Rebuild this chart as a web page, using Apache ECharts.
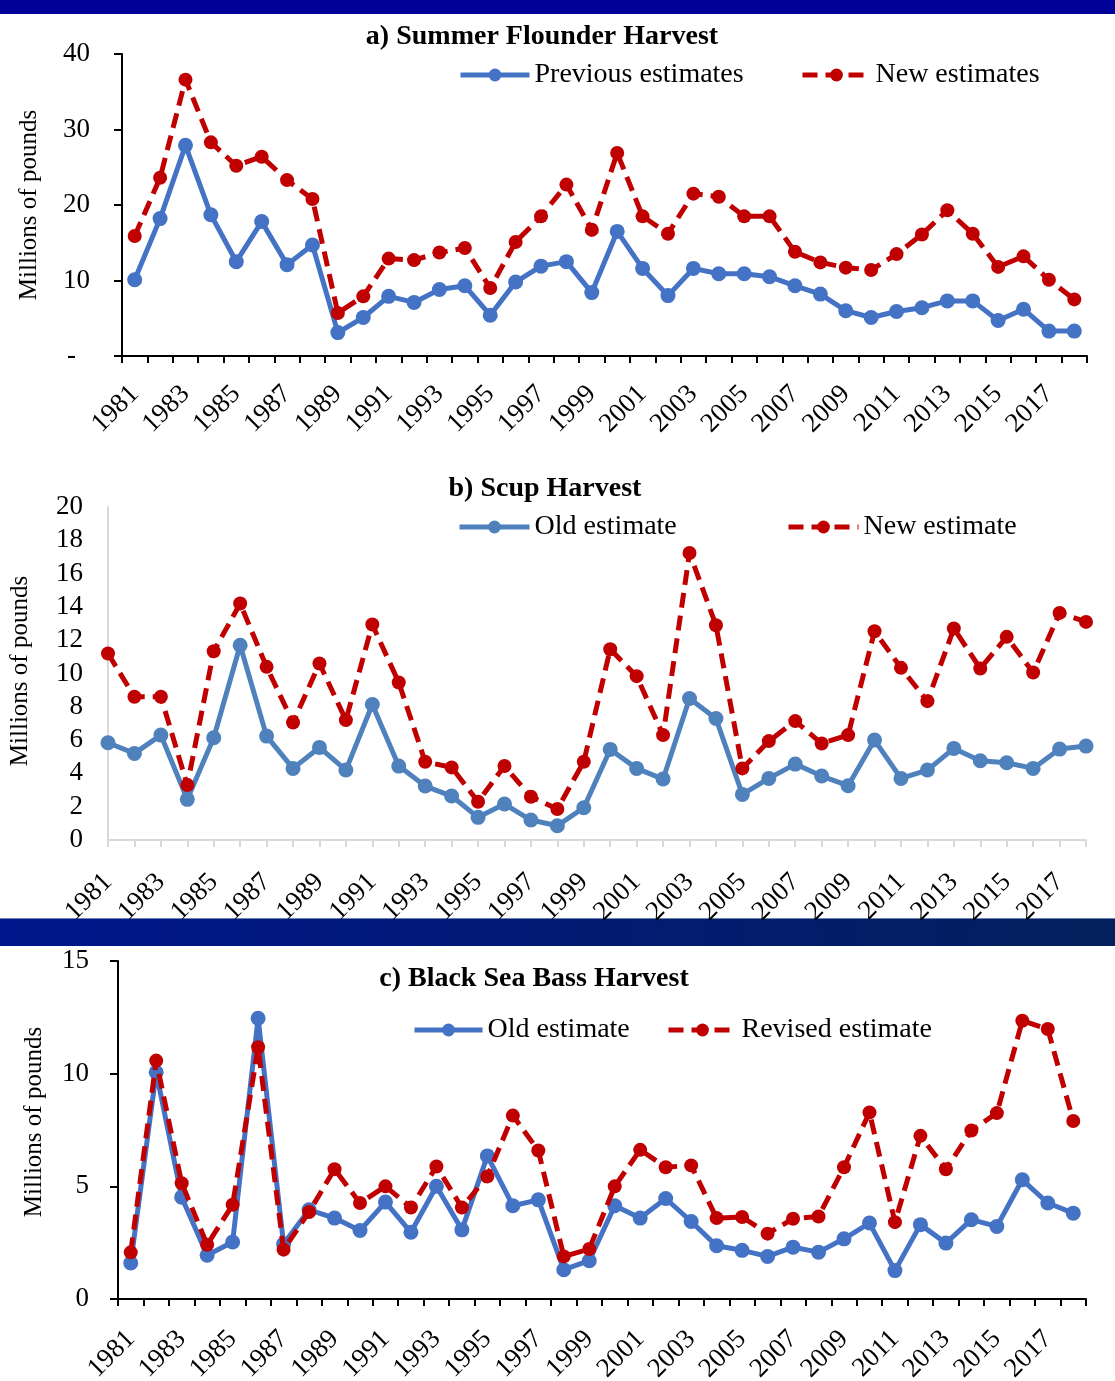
<!DOCTYPE html>
<html>
<head>
<meta charset="utf-8">
<title>Harvest estimates: Summer Flounder, Scup, Black Sea Bass</title>
<script src="https://cdn.jsdelivr.net/npm/echarts@6/dist/echarts.min.js"></script>
<style>
  html, body { margin: 0; padding: 0; background: #ffffff; }
  #chart { width: 1115px; height: 1381px; }
</style>
</head>
<body>
<div id="chart"></div>
<script>
// Years shared by all three panels
const years = ['1981','1982','1983','1984','1985','1986','1987','1988','1989','1990',
  '1991','1992','1993','1994','1995','1996','1997','1998','1999','2000',
  '2001','2002','2003','2004','2005','2006','2007','2008','2009','2010',
  '2011','2012','2013','2014','2015','2016','2017','2018'];

// a) Summer flounder harvest, millions of pounds
const flounderPrevious = [10.1,18.2,27.9,18.7,12.5,17.8,12.1,14.7,3.1,5.1,
  7.9,7.1,8.8,9.3,5.4,9.8,11.9,12.5,8.4,16.5,
  11.6,8.0,11.6,10.9,10.9,10.5,9.3,8.2,6.0,5.1,
  5.9,6.4,7.3,7.3,4.7,6.2,3.3,3.3];
const flounderNew = [15.9,23.6,36.6,28.3,25.2,26.4,23.3,20.8,5.7,7.9,
  12.9,12.7,13.7,14.3,9.0,15.1,18.5,22.7,16.7,26.9,
  18.5,16.2,21.5,21.1,18.5,18.5,13.8,12.4,11.7,11.4,
  13.5,16.1,19.3,16.2,11.8,13.2,10.1,7.5];

// b) Scup harvest, millions of pounds
const scupOld = [5.84,5.2,6.3,2.44,6.14,11.7,6.24,4.3,5.56,4.2,
  8.14,4.44,3.24,2.64,1.36,2.16,1.2,0.86,1.94,5.44,
  4.3,3.66,8.5,7.3,2.74,3.7,4.56,3.84,3.26,6.0,
  3.7,4.2,5.5,4.76,4.64,4.3,5.46,5.64];
const scupNew = [11.2,8.6,8.6,3.3,11.34,14.2,10.4,7.06,10.6,7.2,
  12.94,9.46,4.7,4.36,2.3,4.44,2.6,1.86,4.7,11.46,
  9.84,6.3,17.24,12.9,4.3,5.94,7.14,5.8,6.3,12.54,
  10.34,8.34,12.7,10.3,12.2,10.06,13.64,13.1];

// c) Black sea bass harvest, millions of pounds
const bassOld = [1.6,10.06,4.52,1.94,2.53,12.46,2.44,3.96,3.59,3.04,
  4.3,2.96,5.0,3.07,6.35,4.14,4.4,1.3,1.7,4.14,
  3.59,4.46,3.44,2.36,2.16,1.89,2.3,2.08,2.67,3.37,
  1.26,3.3,2.48,3.52,3.22,5.29,4.26,3.81];
const bassRevised = [2.07,10.58,5.14,2.41,4.18,11.17,2.19,3.86,5.76,4.26,
  5.0,4.06,5.88,4.06,5.44,8.14,6.59,1.89,2.22,5.0,
  6.62,5.85,5.93,3.59,3.64,2.9,3.56,3.66,5.85,8.28,
  3.41,7.24,5.76,7.48,8.25,12.35,11.98,7.9];

// Panel headings and series names
const panelTitles = ['a) Summer Flounder Harvest', 'b) Scup Harvest', 'c) Black Sea Bass Harvest'];
const seriesNames = [
  ['Previous estimates', 'New estimates'],
  ['Old estimate', 'New estimate'],
  ['Old estimate ', 'Revised estimate']
];
const yAxisName = 'Millions of pounds';
const zeroLabelA = '-';

const FONT = '"Liberation Serif", "Times New Roman", serif';
const BLUE = '#4472c4';
const BLUE_B = '#4f81bd';
const RED = '#c00000';

const chart = echarts.init(document.getElementById('chart'), null, { renderer: 'canvas' });

function xAxisFor(gridIndex, boundaryGap, axisColor, margin) {
  return {
    type: 'category', gridIndex, data: years, boundaryGap,
    axisLine: { show: true, lineStyle: { color: axisColor, width: 2 } },
    axisTick: { show: true, interval: 0, inside: false, length: 7, lineStyle: { color: axisColor, width: 2 } },
    axisLabel: { interval: 1, rotate: 45, margin, color: '#000', fontFamily: FONT, fontSize: 27 },
    splitLine: { show: false }
  };
}

function lineSeries(name, data, axisIndex, color, dashed) {
  return {
    type: 'line', name, data,
    xAxisIndex: axisIndex, yAxisIndex: axisIndex,
    symbol: 'circle', symbolSize: dashed ? 14 : 15,
    showSymbol: true, animation: false,
    itemStyle: { color },
    lineStyle: { color, width: 5, type: dashed ? [15, 8] : 'solid', cap: 'butt' },
    z: dashed ? 3 : 2
  };
}

function legendFor(name, left, centerY, itemWidth, dashed) {
  return {
    data: [name], left, top: centerY - 12, itemWidth, itemHeight: 16, padding: 0,
    textStyle: { fontFamily: FONT, fontSize: 28, color: '#000' },
    lineStyle: { width: 5, type: dashed ? [15, 8] : 'solid' },
    selectedMode: false
  };
}

const option = {
  backgroundColor: '#ffffff',
  animation: false,
  title: [
    { text: panelTitles[0], left: 542, top: 23, textAlign: 'center', padding: 0,
      textStyle: { fontFamily: FONT, fontSize: 28, fontWeight: 'bold', color: '#000' } },
    { text: panelTitles[1], left: 545, top: 475, textAlign: 'center', padding: 0,
      textStyle: { fontFamily: FONT, fontSize: 28, fontWeight: 'bold', color: '#000' } },
    { text: panelTitles[2], left: 534, top: 965, textAlign: 'center', padding: 0,
      textStyle: { fontFamily: FONT, fontSize: 28, fontWeight: 'bold', color: '#000' } }
  ],
  legend: [
    legendFor(seriesNames[0][0], 458, 73, 69, false),
    legendFor(seriesNames[0][1], 800, 73, 68, true),
    legendFor(seriesNames[1][0], 457, 525, 70, false),
    legendFor(seriesNames[1][1], 786, 525, 70, true),
    legendFor(seriesNames[2][0], 412, 1028, 68, false),
    legendFor(seriesNames[2][1], 666, 1028, 68, true)
  ],
  grid: [
    { left: 122, top: 54, width: 965, height: 302, outerBoundsMode: 'none', containLabel: false },
    { left: 108, top: 507, width: 978, height: 333, outerBoundsMode: 'none', containLabel: false },
    { left: 118, top: 961, width: 968, height: 338, outerBoundsMode: 'none', containLabel: false }
  ],
  xAxis: [
    xAxisFor(0, true, '#000', 34),
    xAxisFor(1, false, '#d9d9d9', 38),
    xAxisFor(2, true, '#000', 36)
  ],
  yAxis: [
    {
      type: 'value', gridIndex: 0, min: 0, max: 40, interval: 10,
      axisLine: { show: true, lineStyle: { color: '#000', width: 2 } },
      axisTick: { show: true, inside: false, length: 8, lineStyle: { color: '#000', width: 2 } },
      axisLabel: {
        margin: 32, color: '#000', fontFamily: FONT, fontSize: 27,
        formatter: v => v === 0 ? '{z|' + zeroLabelA + '}' : String(v),
        rich: { z: { fontFamily: FONT, fontSize: 27, color: '#000', padding: [0, 14, 0, 0] } }
      },
      splitLine: { show: false }
    },
    {
      type: 'value', gridIndex: 1, min: 0, max: 20, interval: 2,
      axisLine: { show: true, lineStyle: { color: '#d9d9d9', width: 2 } },
      axisTick: { show: false },
      axisLabel: { margin: 25, color: '#000', fontFamily: FONT, fontSize: 27 },
      splitLine: { show: false }
    },
    {
      type: 'value', gridIndex: 2, min: 0, max: 15, interval: 5,
      axisLine: { show: true, lineStyle: { color: '#000', width: 2 } },
      axisTick: { show: true, inside: false, length: 8, lineStyle: { color: '#000', width: 2 } },
      axisLabel: { margin: 29, color: '#000', fontFamily: FONT, fontSize: 27 },
      splitLine: { show: false }
    }
  ],
  series: [
    lineSeries(seriesNames[0][0], flounderPrevious, 0, BLUE, false),
    lineSeries(seriesNames[0][1], flounderNew, 0, RED, true),
    lineSeries(seriesNames[1][0], scupOld, 1, BLUE_B, false),
    lineSeries(seriesNames[1][1], scupNew, 1, RED, true),
    lineSeries(seriesNames[2][0], bassOld, 2, BLUE, false),
    lineSeries(seriesNames[2][1], bassRevised, 2, RED, true)
  ],
  graphic: [
    // top banner
    { type: 'rect', shape: { x: 0, y: 0, width: 1115, height: 14 }, style: { fill: '#000099' }, silent: true },
    // banner between panels b and c
    { type: 'rect', shape: { x: 0, y: 918, width: 1115, height: 28 }, silent: true,
      style: { fill: new echarts.graphic.LinearGradient(0, 0, 1, 0, [
        { offset: 0, color: '#00168c' }, { offset: 1, color: '#03205c' }
      ]) } },
    { type: 'rect', shape: { x: 0, y: 918, width: 1115, height: 1 }, style: { fill: '#6a82b0' }, silent: true },
    // vertical axis names
    { type: 'text', x: 29, y: 205, rotation: Math.PI / 2, silent: true,
      style: { text: yAxisName, fontFamily: FONT, fontSize: 25, fill: '#000', align: 'center', verticalAlign: 'middle' } },
    { type: 'text', x: 20, y: 671, rotation: Math.PI / 2, silent: true,
      style: { text: yAxisName, fontFamily: FONT, fontSize: 25, fill: '#000', align: 'center', verticalAlign: 'middle' } },
    { type: 'text', x: 34, y: 1122, rotation: Math.PI / 2, silent: true,
      style: { text: yAxisName, fontFamily: FONT, fontSize: 25, fill: '#000', align: 'center', verticalAlign: 'middle' } }
  ]
};

chart.setOption(option);
</script>
</body>
</html>
